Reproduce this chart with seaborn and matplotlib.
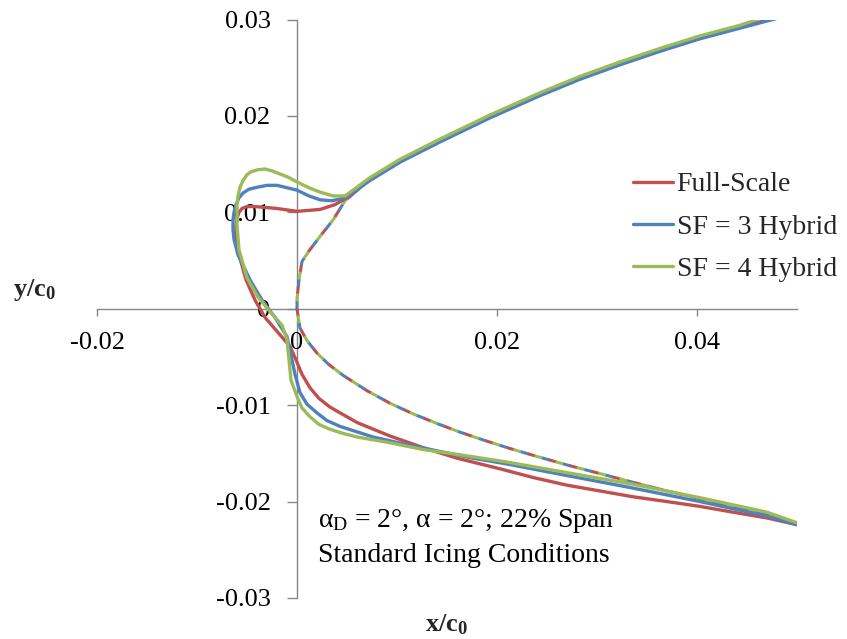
import matplotlib
matplotlib.use("Agg")
import matplotlib.pyplot as plt
from matplotlib.lines import Line2D
import seaborn as sns

# Clean airfoil contour (upper surface aft -> leading edge -> lower surface aft)
clean_x = [0.0480, 0.0443, 0.0403, 0.0363, 0.0323, 0.0283, 0.0243, 0.0193, 0.0143,
           0.0103, 0.0073, 0.0048, 0.0036, 0.0023, 0.0012, 0.0005, 0.0002, 0.0000,
           0.0000, 0.0003, 0.0010, 0.0020, 0.0032, 0.0046, 0.0070, 0.0093, 0.0116,
           0.0140, 0.0163, 0.0186, 0.0210, 0.0236, 0.0270, 0.0303, 0.0336, 0.0370,
           0.0403, 0.0436, 0.0470, 0.0500]
clean_y = [0.0302, 0.0292, 0.0281, 0.0268, 0.0254, 0.0239, 0.0222, 0.0199, 0.0174,
           0.0153, 0.0134, 0.0112, 0.0092, 0.0075, 0.0060, 0.0049, 0.0030, 0.0010,
           0.0000, -0.0020, -0.0033, -0.0046, -0.0058, -0.0069, -0.0085, -0.0098, -0.0109,
           -0.0119, -0.0128, -0.0136, -0.0144, -0.0152, -0.0162, -0.0171, -0.0180, -0.0189,
           -0.0197, -0.0206, -0.0214, -0.0222]

# Ice shapes (upper surface aft -> horn / leading edge -> lower surface aft)
full_x = [0.0480, 0.0443, 0.0403, 0.0363, 0.0323, 0.0283, 0.0243, 0.0193, 0.0143,
          0.0103, 0.0073, 0.0048, 0.0038, 0.0023, 0.0000, -0.0020, -0.0042, -0.0050,
          -0.0055, -0.0058, -0.0060, -0.0061, -0.0061, -0.0060, -0.0058, -0.0051, -0.0042,
          -0.0032, -0.0017, -0.0007, -0.0001, 0.0005, 0.0013, 0.0022, 0.0033, 0.0060,
          0.0093, 0.0126, 0.0160, 0.0203, 0.0236, 0.0270, 0.0303, 0.0336, 0.0370,
          0.0403, 0.0436, 0.0470, 0.0500]
full_y = [0.0302, 0.0292, 0.0281, 0.0268, 0.0254, 0.0239, 0.0222, 0.0199, 0.0174,
          0.0153, 0.0134, 0.0114, 0.0108, 0.0103, 0.0101, 0.0104, 0.0106, 0.0106,
          0.0104, 0.0100, 0.0094, 0.0086, 0.0077, 0.0066, 0.0056, 0.0030, 0.0009,
          -0.0009, -0.0027, -0.0039, -0.0053, -0.0068, -0.0082, -0.0093, -0.0102, -0.0118,
          -0.0132, -0.0144, -0.0155, -0.0166, -0.0175, -0.0183, -0.0189, -0.0195, -0.0200,
          -0.0205, -0.0211, -0.0217, -0.0224]

sf3_x = [0.0483, 0.0443, 0.0403, 0.0363, 0.0323, 0.0283, 0.0243, 0.0193, 0.0143,
         0.0103, 0.0073, 0.0048, 0.0035, 0.0023, 0.0012, 0.0000, -0.0020, -0.0030,
         -0.0040, -0.0048, -0.0054, -0.0058, -0.0061, -0.0063, -0.0064, -0.0064, -0.0063,
         -0.0059, -0.0047, -0.0035, -0.0022, -0.0010, -0.0005, -0.0002, 0.0003, 0.0010,
         0.0020, 0.0030, 0.0043, 0.0076, 0.0110, 0.0143, 0.0176, 0.0210, 0.0270,
         0.0336, 0.0403, 0.0470, 0.0500]
sf3_y = [0.0302, 0.0291, 0.0280, 0.0267, 0.0253, 0.0238, 0.0221, 0.0198, 0.0173,
         0.0152, 0.0133, 0.0115, 0.0112, 0.0113, 0.0117, 0.0123, 0.0128, 0.0128,
         0.0126, 0.0124, 0.0120, 0.0115, 0.0108, 0.0100, 0.0092, 0.0082, 0.0072,
         0.0056, 0.0030, 0.0009, -0.0009, -0.0029, -0.0053, -0.0068, -0.0087, -0.0099,
         -0.0108, -0.0116, -0.0122, -0.0133, -0.0141, -0.0148, -0.0155, -0.0161, -0.0173,
         -0.0186, -0.0200, -0.0215, -0.0224]

sf4_x = [0.0460, 0.0443, 0.0403, 0.0363, 0.0323, 0.0283, 0.0243, 0.0193, 0.0143,
         0.0103, 0.0073, 0.0048, 0.0036, 0.0023, 0.0013, 0.0003, -0.0010, -0.0025,
         -0.0032, -0.0040, -0.0046, -0.0050, -0.0054, -0.0057, -0.0059, -0.0060, -0.0060,
         -0.0058, -0.0050, -0.0039, -0.0027, -0.0015, -0.0010, -0.0008, -0.0006, 0.0000,
         0.0005, 0.0013, 0.0022, 0.0033, 0.0045, 0.0060, 0.0093, 0.0126, 0.0160,
         0.0210, 0.0270, 0.0336, 0.0403, 0.0470, 0.0500]
sf4_y = [0.0300, 0.0294, 0.0283, 0.0270, 0.0256, 0.0241, 0.0224, 0.0201, 0.0176,
         0.0155, 0.0136, 0.0117, 0.0117, 0.0121, 0.0125, 0.0130, 0.0137, 0.0143,
         0.0145, 0.0144, 0.0142, 0.0139, 0.0133, 0.0126, 0.0117, 0.0108, 0.0087,
         0.0061, 0.0032, 0.0012, -0.0003, -0.0017, -0.0032, -0.0053, -0.0074, -0.0091,
         -0.0103, -0.0112, -0.0120, -0.0125, -0.0129, -0.0133, -0.0139, -0.0146, -0.0151,
         -0.0159, -0.0170, -0.0182, -0.0196, -0.0211, -0.0222]

series_names = ["Full-Scale", "SF = 3 Hybrid", "SF = 4 Hybrid"]
series_colors = ["#C0504D", "#4F81BD", "#9BBB59"]

x_ticks = [-0.02, 0.0, 0.02, 0.04]
x_tick_labels = ["-0.02", "0", "0.02", "0.04"]
y_ticks = [-0.03, -0.02, -0.01, 0.0, 0.01, 0.02, 0.03]
y_tick_labels = ["-0.03", "-0.02", "-0.01", "0", "0.01", "0.02", "0.03"]

sns.set_theme(style="white")
plt.rcParams["font.family"] = ["Liberation Serif", "DejaVu Serif"]
plt.rcParams["mathtext.fontset"] = "custom"
plt.rcParams["mathtext.rm"] = "Liberation Serif"
plt.rcParams["mathtext.it"] = "Liberation Serif:italic"
plt.rcParams["mathtext.bf"] = "Liberation Serif:bold"

W, H = 847, 639
fig = plt.figure(figsize=(W / 100, H / 100), dpi=100)
ax = fig.add_axes([97 / W, 41 / H, 700 / W, 578.5 / H])

axis_gray = "#868686"
FS = 19
FS_TEXT = 20
LW = 2.4

# Clean airfoil, drawn once per series colour; the dashes interleave red/blue/green
dash_offsets = [0, 2.4, 4.8]
for col, off in zip(series_colors, dash_offsets):
    sns.lineplot(x=clean_x, y=clean_y, sort=False, estimator=None, color=col,
                 lw=2.2, linestyle=(off, (2.6, 4.6)), ax=ax, legend=False)

# Ice shapes
shape_xy = [(full_x, full_y), (sf3_x, sf3_y), (sf4_x, sf4_y)]
for (sx, sy), col in zip(shape_xy, series_colors):
    sns.lineplot(x=sx, y=sy, sort=False, estimator=None, color=col, lw=LW,
                 ax=ax, legend=False, solid_joinstyle="round", solid_capstyle="round")

ax.set_xlim(-0.02, 0.05)
ax.set_ylim(-0.03, 0.03)

for side in ["top", "right"]:
    ax.spines[side].set_visible(False)
for side in ["left", "bottom"]:
    ax.spines[side].set_position(("data", 0))
    ax.spines[side].set_color(axis_gray)
    ax.spines[side].set_linewidth(1.0)
    ax.spines[side].set_zorder(0.5)

ax.set_xticks(x_ticks)
ax.set_xticklabels(x_tick_labels)
ax.set_yticks(y_ticks)
ax.set_yticklabels(y_tick_labels)
ax.tick_params(axis="x", direction="out", length=5, width=1, color=axis_gray,
               pad=12, labelsize=FS, labelcolor="black", bottom=True)
ax.tick_params(axis="y", direction="out", length=7, width=1, color=axis_gray,
               pad=12, labelsize=FS, labelcolor="black", left=True)
ax.grid(False)
ax.set_xlabel("")
ax.set_ylabel("")

fig.text(35 / W, 1 - 290 / H, r"$\mathbf{y/c_0}$", fontsize=FS, ha="center", va="center")
fig.text(447 / W, 1 - 625 / H, r"$\mathbf{x/c_0}$", fontsize=FS, ha="center", va="center")

ax.text(0.0021, -0.0220, "α$_{\\mathrm{D}}$ = 2°, α = 2°; 22% Span", fontsize=FS_TEXT,
        ha="left", va="center", color="black")
ax.text(0.0021, -0.0256, "Standard Icing Conditions", fontsize=FS_TEXT,
        ha="left", va="center", color="black")

handles = [Line2D([0], [0], color=c, lw=LW) for c in series_colors]
ax.legend(handles, series_names, loc="upper left", bbox_to_anchor=(633 / W, 1 - 172 / H),
          bbox_transform=fig.transFigure, frameon=False, fontsize=FS_TEXT,
          handlelength=1.45, handletextpad=0.12, labelspacing=0.6, borderpad=0,
          borderaxespad=0)

fig.savefig("out.png", dpi=100)
